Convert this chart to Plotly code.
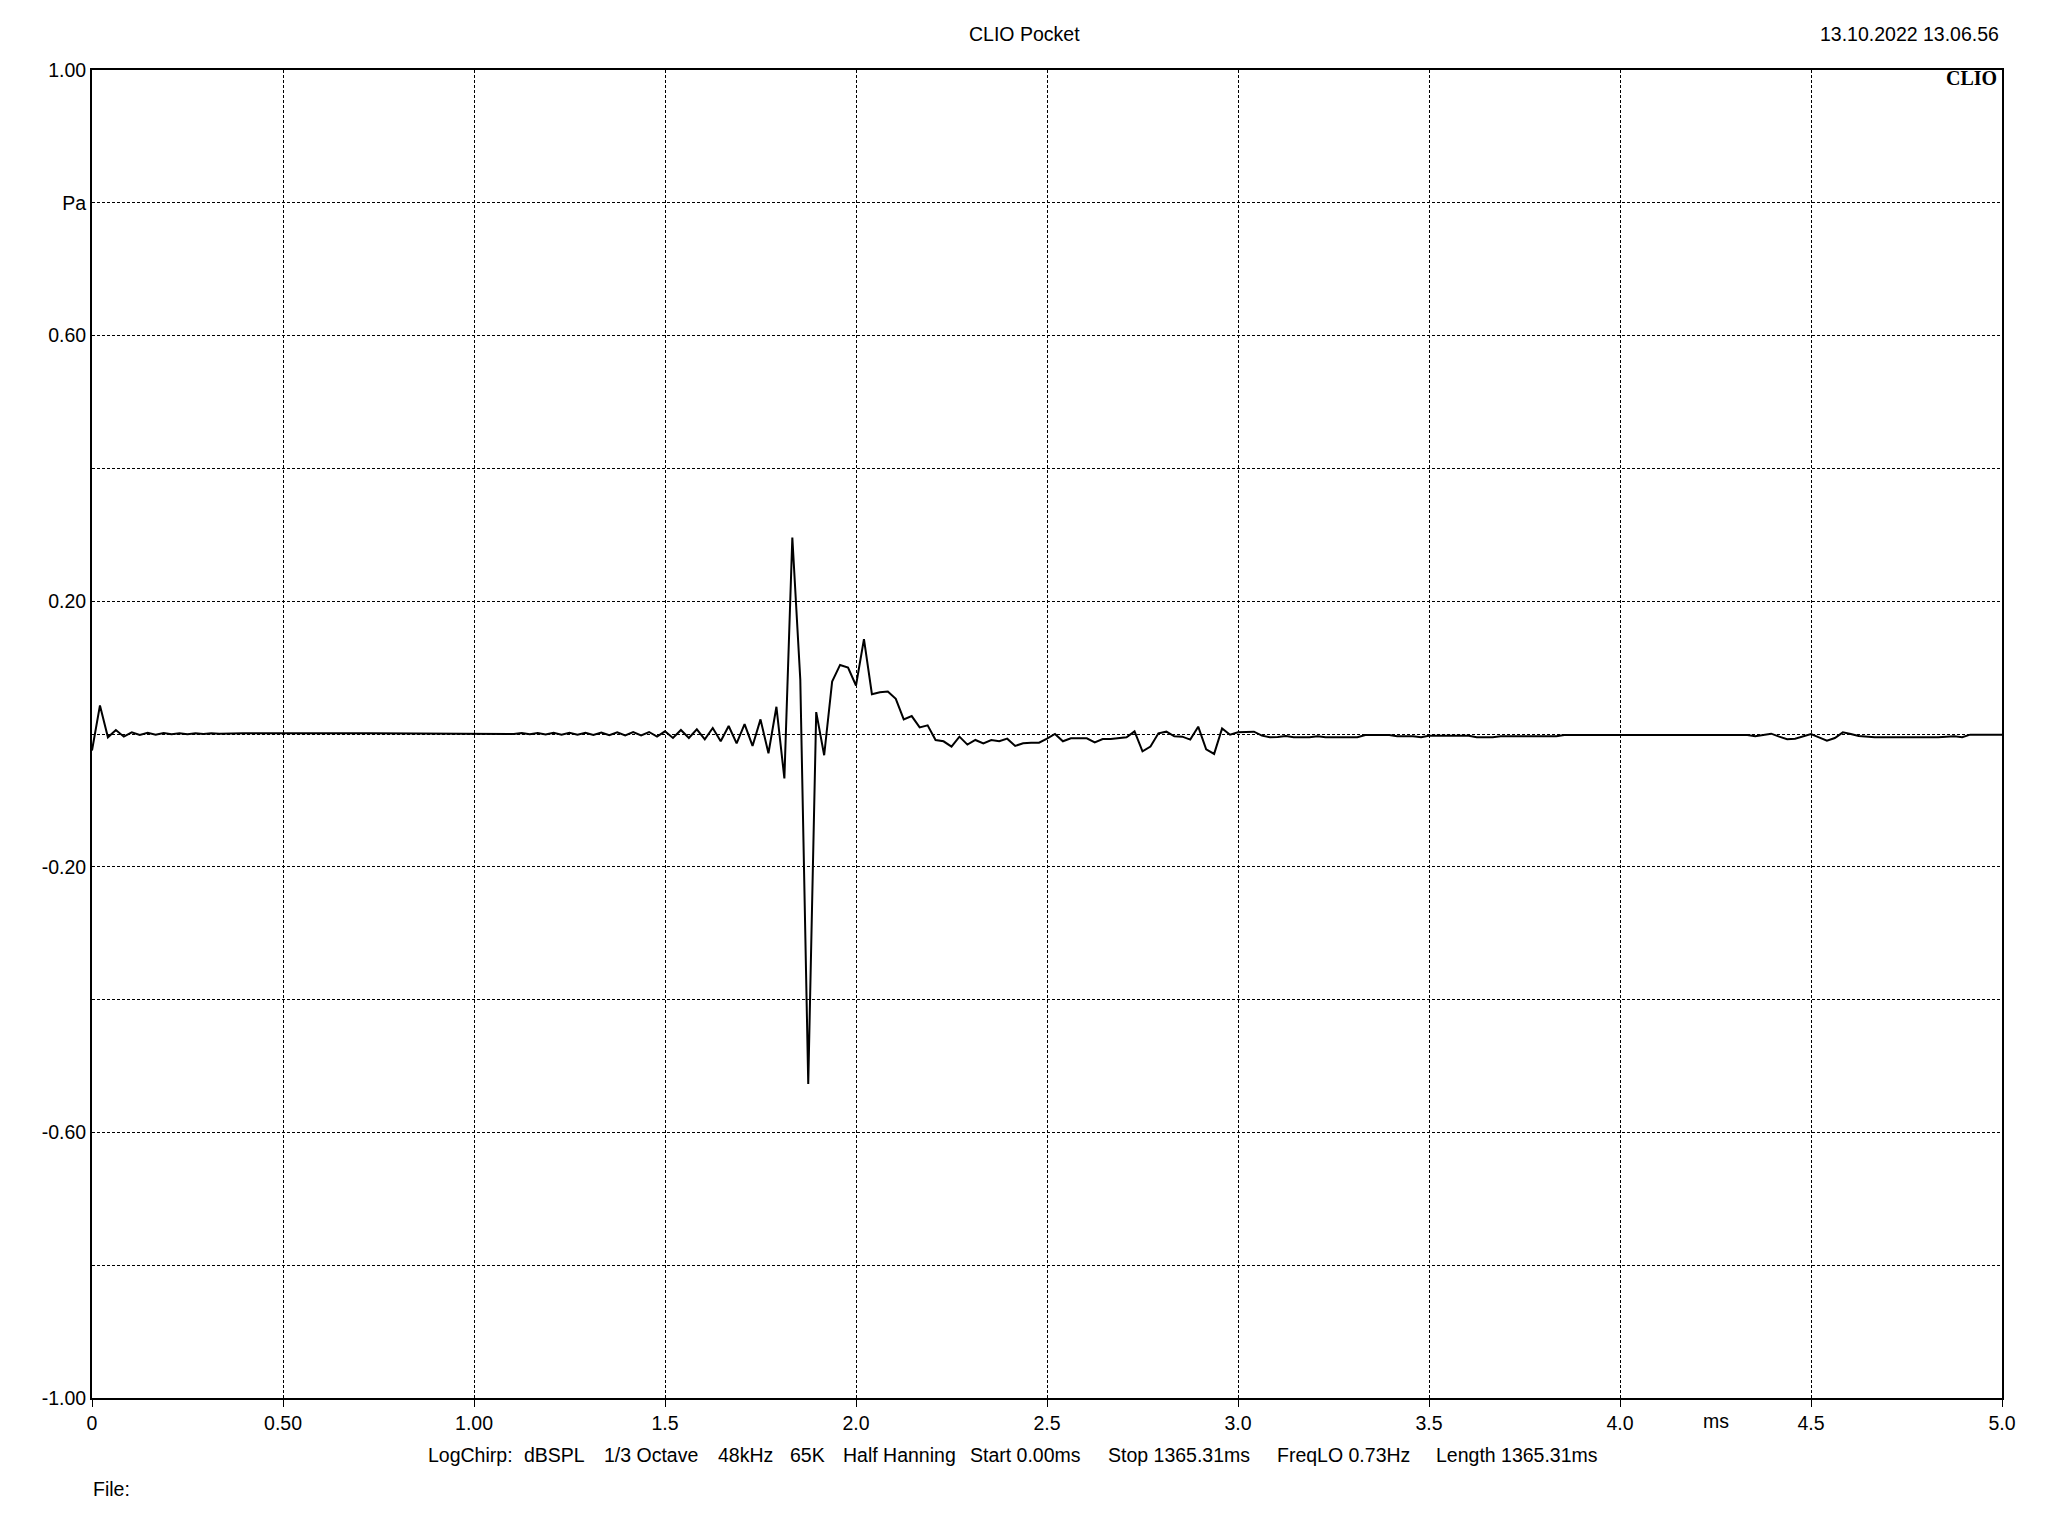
import plotly.graph_objects as go

# ---------------- data ----------------
SAMPLE_RATE_KHZ = 48.0  # samples per ms

sample_idx = [
    0, 1, 2, 3, 4, 5, 6, 7, 8, 9, 10, 11, 12, 13, 14, 15, 16, 17, 18, 19, 35, 52,
    53, 54, 55, 56, 57, 58, 59, 60, 61, 62, 63, 64, 65, 66, 67, 68, 69, 70,
    71, 72, 73, 74, 75, 76, 77, 78, 79, 80, 81, 82, 83, 84, 85, 86, 87, 88,
    89, 90, 91, 92, 93, 94, 95, 96, 97, 98, 99, 100, 101, 102, 103, 104, 105,
    106, 107, 108, 109, 110, 111, 112, 113, 114, 115, 116, 117, 118, 119, 120,
    121, 122, 123, 124, 125, 126, 127, 128, 129, 130, 131, 132, 133, 134, 135,
    136, 137, 138, 139, 140, 141, 142, 143, 144, 145, 146, 147, 148, 149, 150,
    151, 152, 153, 154, 155, 159, 160, 163, 164, 166, 167, 168, 173, 174, 176,
    177, 184, 185, 208, 209, 211, 212, 213, 214, 215, 216, 217, 218, 219, 220,
    221, 222, 224, 232, 234, 235, 236, 240,
]

pressure_pa = [
    -0.025, 0.043, -0.005, 0.006, -0.004, 0.0025, -0.0015, 0.002, -0.001, 0.0015,
    -0.0005, 0.0012, -0.0003, 0.001, 0.0, 0.001, 0.0005, 0.001, 0.0005, 0.001, 0.001, 0.001,
    0.0, 0.0015, -0.0005, 0.0015, -0.0008, 0.0018, -0.001, 0.002, -0.0012, 0.002,
    -0.0015, 0.0022, -0.0018, 0.0025, -0.002, 0.0028, -0.002, 0.003,
    -0.004, 0.004, -0.006, 0.006, -0.006, 0.007, -0.008, 0.009, -0.011, 0.012,
    -0.014, 0.015, -0.018, 0.022, -0.029, 0.041, -0.067, 0.296,
    0.082, -0.527, 0.033, -0.032, 0.079, 0.104, 0.100, 0.073, 0.143, 0.060, 0.063,
    0.064, 0.053, 0.022, 0.027, 0.010, 0.013,
    -0.009, -0.011, -0.019, -0.004, -0.016, -0.009, -0.014, -0.009, -0.011, -0.007,
    -0.018, -0.014, -0.013, -0.013, -0.007,
    0.0, -0.011, -0.0065, -0.0065, -0.0065, -0.0125, -0.0075, -0.0075, -0.006, -0.005,
    0.004, -0.026, -0.019, 0.001, 0.0035,
    -0.0035, -0.004, -0.0085, 0.011, -0.023, -0.030, 0.0085, -0.001, 0.0025, 0.003,
    0.0035, -0.0025, -0.005, -0.0045, -0.003,
    -0.005, -0.005, -0.005, -0.0035, -0.005, -0.005, -0.0015, -0.0015, -0.0035, -0.0035,
    -0.005, -0.0025, -0.0025, -0.005, -0.005,
    -0.0035, -0.0035, -0.0015, -0.0015, -0.0035, 0.0005, -0.004, -0.008, -0.007, -0.003,
    0.0, -0.005, -0.010, -0.006, 0.0025,
    0.0, -0.003, -0.005, -0.005, -0.0035, -0.005, -0.001, -0.001,
]

x_tick_vals = [0, 0.5, 1.0, 1.5, 2.0, 2.5, 3.0, 3.5, 4.0, 4.5, 5.0]
x_tick_text = ["0", "0.50", "1.00", "1.5", "2.0", "2.5", "3.0", "3.5", "4.0", "4.5", "5.0"]
y_tick_vals = [1.0, 0.8, 0.6, 0.4, 0.2, 0.0, -0.2, -0.4, -0.6, -0.8, -1.0]
y_tick_text = ["1.00", "Pa", "0.60", "", "0.20", "", "-0.20", "", "-0.60", "", "-1.00"]

title_text = "CLIO Pocket"
date_text = "13.10.2022 13.06.56"
x_unit = "ms"
info_parts = ["LogChirp:", "dBSPL", "1/3 Octave", "48kHz", "65K", "Half Hanning",
              "Start 0.00ms", "Stop 1365.31ms", "FreqLO 0.73Hz", "Length 1365.31ms"]
info_px = [426, 522, 602, 716, 788, 841, 968, 1106, 1275, 1434]

# ---------------- figure ----------------
OFF = 8  # default page body margin
W, H = 2048 - OFF, 1536 - OFF
PLOT_L, PLOT_T, PLOT_R, PLOT_B = 92, 70, 2002, 1398   # page pixel positions
L, T = PLOT_L - OFF, PLOT_T - OFF
PW, PH = PLOT_R - PLOT_L, PLOT_B - PLOT_T
R, B = W - L - PW, H - T - PH

def px_x(px):
    return (px - PLOT_L) / PW

def px_y(py):
    return (PLOT_B - py) / PH

time_ms = [i / SAMPLE_RATE_KHZ for i in sample_idx]

FONT = "Liberation Sans, Arial, sans-serif"
FS = 19.5

fig = go.Figure()
fig.add_trace(go.Scatter(x=time_ms, y=pressure_pa, mode="lines",
                         line=dict(color="black", width=2), hoverinfo="skip",
                         showlegend=False))

fig.update_layout(
    width=W, height=H,
    margin=dict(l=L, r=R, t=T, b=B),
    paper_bgcolor="white", plot_bgcolor="white",
    font=dict(family=FONT, size=FS, color="black"),
    showlegend=False,
)

fig.update_xaxes(
    range=[0, 5], tickvals=x_tick_vals, ticktext=x_tick_text,
    showgrid=True, gridcolor="black", gridwidth=1, griddash="3px,2px",
    zeroline=False, showline=True, linecolor="black", linewidth=2, mirror=True,
    ticks="outside", ticklen=7, tickwidth=1, tickcolor="black",
    tickfont=dict(family=FONT, size=FS, color="black"),
)
fig.update_yaxes(
    range=[-1, 1], tickvals=y_tick_vals, ticktext=y_tick_text,
    showgrid=True, gridcolor="black", gridwidth=1, griddash="3px,2px",
    zeroline=False, showline=True, linecolor="black", linewidth=2, mirror=True,
    ticks="", tickfont=dict(family=FONT, size=FS, color="black"),
)

ann = []
ann.append(dict(text=title_text, x=px_x(1024), y=px_y(34), xref="paper", yref="paper",
                xanchor="center", yanchor="middle", showarrow=False))
ann.append(dict(text=date_text, x=px_x(2001), y=px_y(34), xref="paper", yref="paper",
                xanchor="right", yanchor="middle", showarrow=False))
ann.append(dict(text="<b>CLIO</b>", x=px_x(1999), y=px_y(78), xref="paper", yref="paper",
                xanchor="right", yanchor="middle", showarrow=False,
                font=dict(family="Liberation Serif, Times New Roman, serif", size=20, color="black")))
ann.append(dict(text=x_unit, x=4.25, y=px_y(1421), xref="x", yref="paper",
                xanchor="center", yanchor="middle", showarrow=False))
for txt, p in zip(info_parts, info_px):
    ann.append(dict(text=txt, x=px_x(p), y=px_y(1455), xref="paper", yref="paper",
                    xanchor="left", yanchor="middle", showarrow=False))
ann.append(dict(text="File:", x=px_x(91), y=px_y(1489), xref="paper", yref="paper",
                xanchor="left", yanchor="middle", showarrow=False))
fig.update_layout(annotations=ann)

fig.write_html("out.html")
